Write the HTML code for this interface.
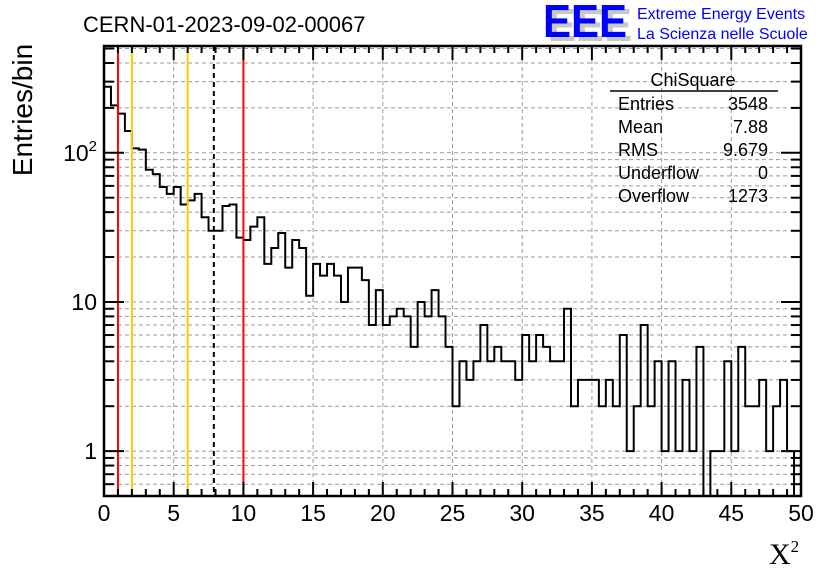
<!DOCTYPE html>
<html><head><meta charset="utf-8"><style>
html,body{margin:0;padding:0;background:#fff}
svg{display:block}
text{font-family:"Liberation Sans",sans-serif}
</style></head><body>
<svg id="c" width="836" height="572" xmlns="http://www.w3.org/2000/svg">
<text x="83" y="32" font-size="22">CERN-01-2023-09-02-00067</text>
<g>
<text x="548" y="41" font-size="46" font-weight="bold" fill="#c8c8c8" textLength="84" lengthAdjust="spacingAndGlyphs">EEE</text>
<text x="543" y="37" font-size="46" font-weight="bold" fill="#0000ff" textLength="84" lengthAdjust="spacingAndGlyphs">EEE</text>
<text x="637" y="19" font-size="16" fill="#0000ff">Extreme Energy Events</text>
<text x="637" y="39" font-size="16" fill="#0000ff">La Scienza nelle Scuole</text>
</g>
<text transform="translate(32,110) rotate(-90)" text-anchor="middle" font-size="28">Entries/bin</text>
<text x="769" y="564" font-size="30" style="font-family:'Liberation Serif',serif">X<tspan font-size="17" dy="-12">2</tspan></text>
<g id="grid"></g><g id="marks"></g><g id="axes"></g>
<g font-size="18">
<text x="693" y="86" text-anchor="middle">ChiSquare</text>
<line x1="610" y1="91" x2="778" y2="91" stroke="#000" stroke-width="1.5"/>
<text x="618" y="110">Entries</text><text x="768" y="110" text-anchor="end">3548</text>
<text x="618" y="133">Mean</text><text x="768" y="133" text-anchor="end">7.88</text>
<text x="618" y="156">RMS</text><text x="768" y="156" text-anchor="end">9.679</text>
<text x="618" y="179">Underflow</text><text x="768" y="179" text-anchor="end">0</text>
<text x="618" y="202">Overflow</text><text x="768" y="202" text-anchor="end">1273</text>
</g>
</svg>
<script>
const counts=[277,208,183,140,107,105,77,72,59,53,59,45,48,53,37,30,30,44,45,27,26,32,37,18,23,29,17,26,23,11,18,15,18,15,10,17,17,14,7,12,7,8,9,8,5,10,8,12,8,5,2,4,3,4,7,4,5,4,4,3,6,4,6,5,4,4,9,2,3,3,3,2,3,2,6,1,2,7,2,4,1,4,1,3,1,5,0,1,1,4,1,5,2,2,3,1,2,3,1,0];
const binWidth=0.5;
const xTicks=[0,5,10,15,20,25,30,35,40,45,50];
const yDecades=[1,10,100];
const yDecadeLabels=["1","10","10²"];
const markerLines=[{v:1,c:"#ff0000",d:"",n:"red-cut-1"},{v:2,c:"#ffcc00",d:"",n:"yellow-cut-2"},{v:6,c:"#ffcc00",d:"",n:"yellow-cut-6"},{v:7.88,c:"#000",d:"5,4",n:"mean-line"},{v:10,c:"#ff0000",d:"",n:"red-cut-10"}];
const L=104,R=801,T=46,B=496,X0=0,X1=50,YMIN=0.5,YMAX=520;
const sx=v=>L+(v-X0)/(X1-X0)*(R-L);
const sy=v=>{v=Math.max(v,YMIN*0.5);return Math.min(B+5,B-(Math.log10(v)-Math.log10(YMIN))/(Math.log10(YMAX)-Math.log10(YMIN))*(B-T));};
const NS="http://www.w3.org/2000/svg";
function mk(p,t,a){const e=document.createElementNS(NS,t);for(const k in a)e.setAttribute(k,a[k]);p.appendChild(e);return e;}
const grid=document.getElementById('grid'),marks=document.getElementById('marks'),axes=document.getElementById('axes');
xTicks.slice(1,-1).forEach(v=>{const g=mk(grid,'line',{x1:sx(v),x2:sx(v),y1:T,y2:B,stroke:'#999','stroke-dasharray':'4,3','stroke-width':1});

});
const minors=[];
for(let d=0.1;d<=1000;d*=10)for(let m=1;m<10;m++){const v=+(d*m).toPrecision(3);if(v>YMIN&&v<YMAX)minors.push(v);}
minors.forEach(v=>{const g=mk(grid,'line',{x1:L,x2:R,y1:sy(v),y2:sy(v),stroke:'#999','stroke-dasharray':'4,3','stroke-width':1});


const major=yDecades.includes(v);
const t1=mk(axes,'line',{x1:L,x2:L+(major?20:10),y1:sy(v),y2:sy(v),stroke:'#000','stroke-width':2});


const t2=mk(axes,'line',{x1:R,x2:R-(major?20:10),y1:sy(v),y2:sy(v),stroke:'#000','stroke-width':2});

});
let d='M'+sx(0)+','+B;
counts.forEach((c,i)=>{const y=c>0?sy(c):B+5;d+=' L'+sx(i*binWidth)+','+y+' L'+sx((i+1)*binWidth)+','+y;});
const h=mk(marks,'path',{d:d,fill:'none',stroke:'#000','stroke-width':2});


markerLines.forEach(m=>{const l=mk(marks,'line',{x1:sx(m.v),x2:sx(m.v),y1:T,y2:B,stroke:m.c,'stroke-width':2,'stroke-dasharray':m.d||'none'});

});
mk(marks,'rect',{x:L-2,y:B+1,width:R-L+4,height:10,fill:'#fff'});
const f=mk(axes,'rect',{x:L,y:T,width:R-L,height:B-T,fill:'none',stroke:'#000','stroke-width':2.5});


for(let v=X0;v<=X1;v+=1){const major=v%5===0;const len=major?14:7;
const a=mk(axes,'line',{x1:sx(v),x2:sx(v),y1:B,y2:B-len,stroke:'#000','stroke-width':2});


const b=mk(axes,'line',{x1:sx(v),x2:sx(v),y1:T,y2:T+len,stroke:'#000','stroke-width':2});

}
xTicks.forEach(v=>{const t=mk(axes,'text',{x:sx(v),y:521,'text-anchor':'middle','font-size':23});t.textContent=String(v);

});
yDecades.forEach((v,i)=>{const t=mk(axes,'text',{x:97,y:sy(v)+8,'text-anchor':'end','font-size':23});
if(yDecadeLabels[i]==="10²"){t.textContent="10";const s=mk(t,'tspan',{'font-size':15,dy:-10});s.textContent="2";}else t.textContent=yDecadeLabels[i];

});
</script>
</body></html>
